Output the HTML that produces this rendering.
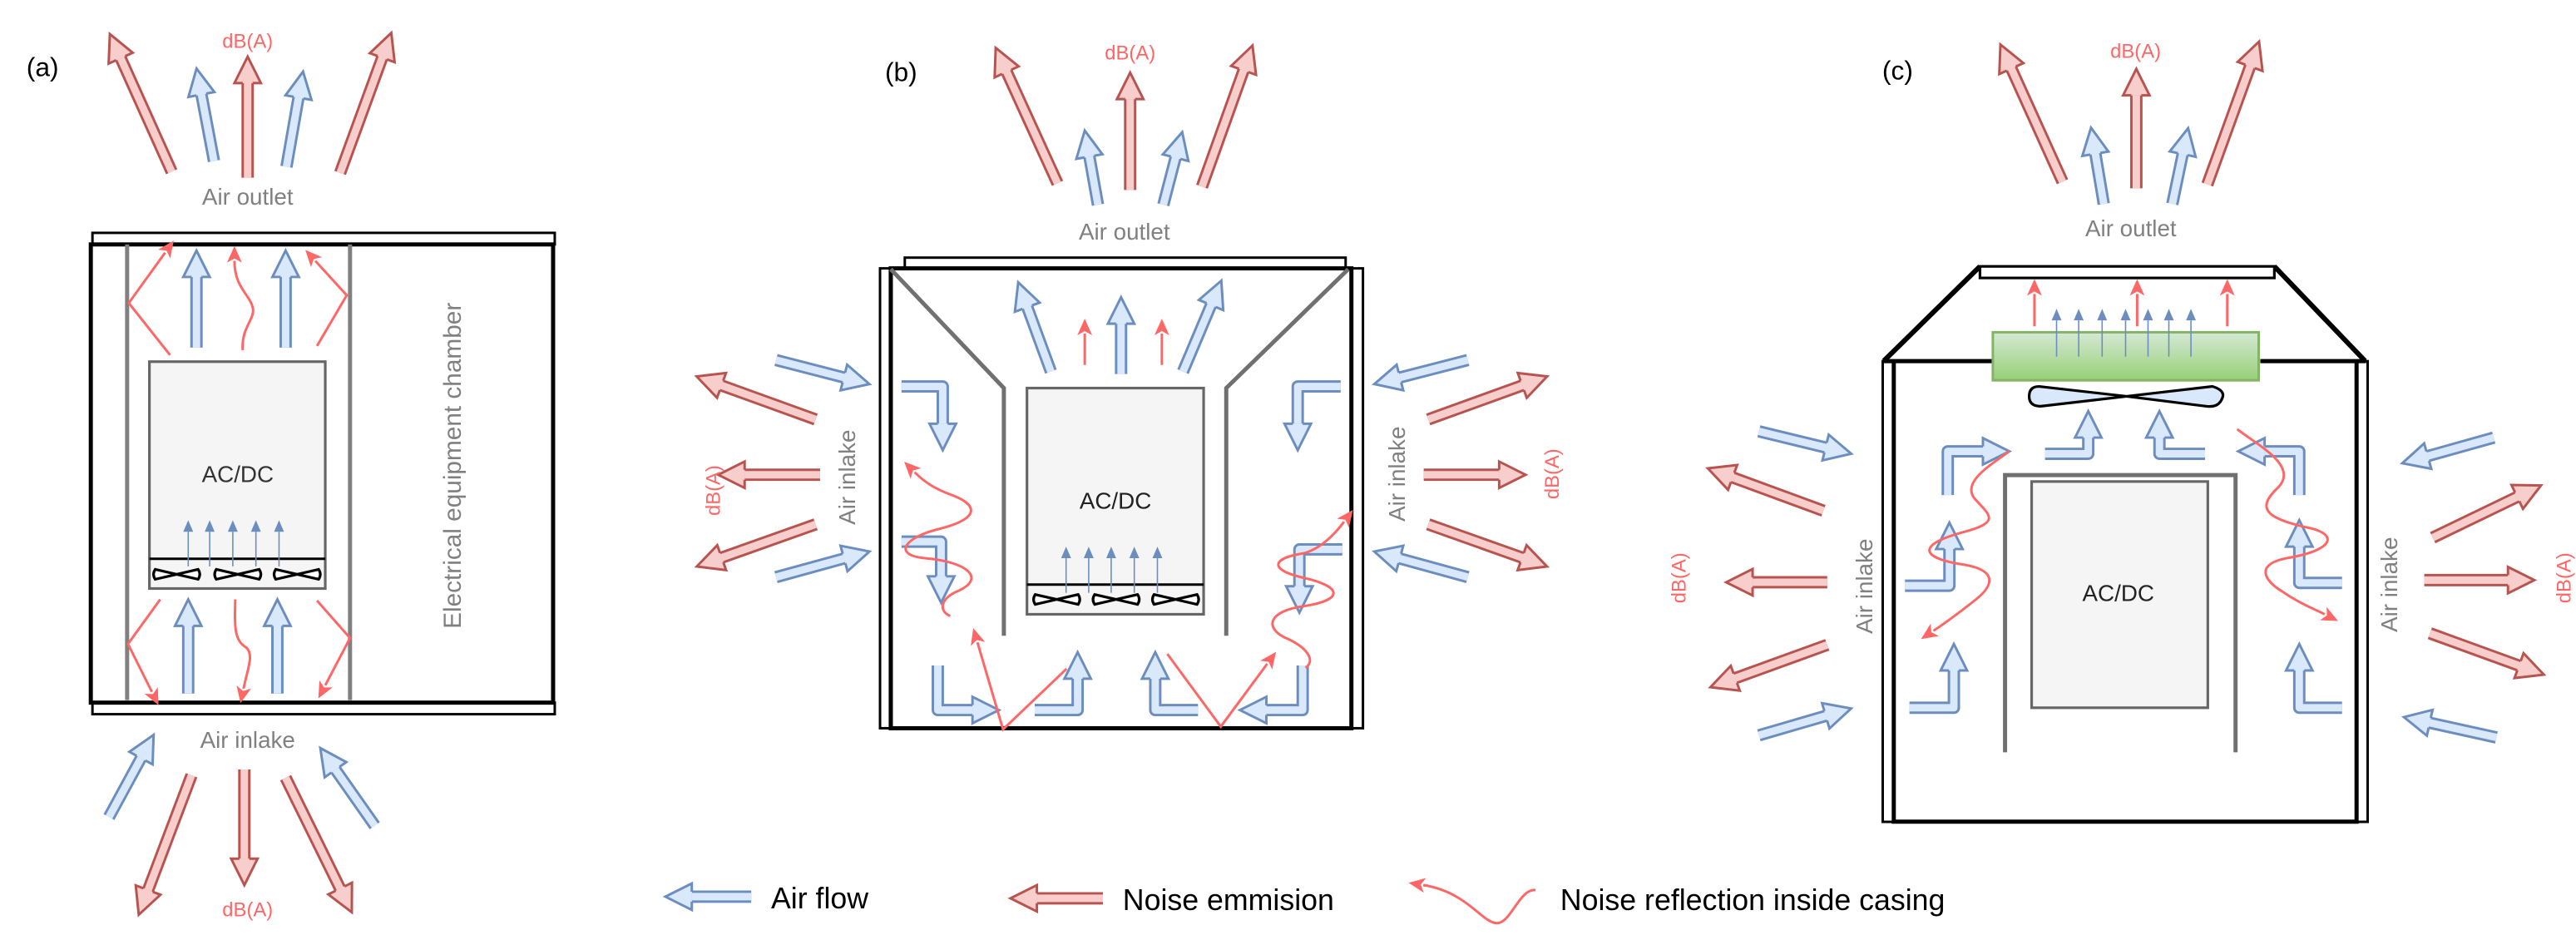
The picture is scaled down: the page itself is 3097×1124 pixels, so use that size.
<!DOCTYPE html>
<html><head><meta charset="utf-8"><style>
html,body{margin:0;padding:0;background:#fff}
svg{display:block}
text{font-family:"Liberation Sans",Arial,sans-serif}
.ro{stroke:#b85450;stroke-width:7.5;fill:none}
.ri{stroke:#f8cecc;stroke-width:4.5;fill:none;marker-end:url(#hR)}
.bo{stroke:#6c8ebf;stroke-width:7.5;fill:none;stroke-linejoin:round}
.bi{stroke:#dae8fc;stroke-width:4.5;fill:none;stroke-linejoin:round;marker-end:url(#hB)}
.nr{stroke:#ff6666;stroke-width:1.5;fill:none;marker-end:url(#hN)}
.sb{stroke:#6c8ebf;stroke-width:0.8;fill:none;marker-end:url(#hS)}
.g{fill:#808080;font-size:14px}
.db{fill:#ff6666;font-size:12px}
.fan{fill:#fff;stroke:#000;stroke-width:1.6}
</style></head><body>
<svg width="3097" height="1124" viewBox="0 0 1560.2 566.2" xmlns="http://www.w3.org/2000/svg">
<defs>
<marker id="hR" markerUnits="userSpaceOnUse" markerWidth="40" markerHeight="40" refX="0" refY="0" orient="auto" overflow="visible">
<path d="M0,-3 L0,-8 L16,0 L0,8 L0,3" fill="#f8cecc" stroke="#b85450" stroke-width="1.5" stroke-linejoin="miter"/></marker>
<marker id="hB" markerUnits="userSpaceOnUse" markerWidth="40" markerHeight="40" refX="0" refY="0" orient="auto" overflow="visible">
<path d="M0,-3 L0,-8 L16,0 L0,8 L0,3" fill="#dae8fc" stroke="#6c8ebf" stroke-width="1.5"/></marker>
<marker id="hN" markerUnits="userSpaceOnUse" markerWidth="20" markerHeight="20" refX="0" refY="0" orient="auto" overflow="visible">
<path d="M-1,-4.5 L9,0 L-1,4.5 L1.5,0 Z" fill="#ff6666"/></marker>
<marker id="hS" markerUnits="userSpaceOnUse" markerWidth="20" markerHeight="20" refX="0" refY="0" orient="auto" overflow="visible">
<path d="M0,-3 L7,0 L0,3 Z" fill="#6c8ebf"/></marker>
<linearGradient id="gr" x1="0" y1="0" x2="0" y2="1"><stop offset="0" stop-color="#d5e8d4"/><stop offset="1" stop-color="#97d077"/></linearGradient>
</defs>

<!-- ================= PANEL A ================= -->
<text x="16" y="46" font-size="16">(a)</text>
<text x="150" y="29" class="db" text-anchor="middle">dB(A)</text>
<text x="150" y="124" class="g" text-anchor="middle">Air outlet</text>
<!-- top outside arrows -->
<line class="ro" x1="104" y1="104" x2="73.1" y2="35.2"/><line class="ri" x1="104" y1="104" x2="73.1" y2="35.2"/>
<line class="ro" x1="150" y1="107.6" x2="150" y2="50.3"/><line class="ri" x1="150" y1="107.6" x2="150" y2="50.3"/>
<line class="ro" x1="206" y1="104.7" x2="231.5" y2="34.9"/><line class="ri" x1="206" y1="104.7" x2="231.5" y2="34.9"/>
<line class="bo" x1="129.6" y1="97.5" x2="122" y2="57.2"/><line class="bi" x1="129.6" y1="97.5" x2="122" y2="57.2"/>
<line class="bo" x1="173.5" y1="101" x2="180.8" y2="59.1"/><line class="bi" x1="173.5" y1="101" x2="180.8" y2="59.1"/>
<!-- box -->
<rect x="56" y="141" width="280" height="7" fill="#fff" stroke="#000" stroke-width="1.5"/>
<rect x="56" y="425.5" width="280" height="7" fill="#fff" stroke="#000" stroke-width="1.5"/>
<rect x="55" y="148" width="280" height="277.5" fill="none" stroke="#000" stroke-width="2.5"/>
<line x1="77" y1="148" x2="77" y2="424" stroke="#808080" stroke-width="2.5"/>
<line x1="212" y1="148" x2="212" y2="424" stroke="#808080" stroke-width="2.5"/>
<rect x="90.5" y="219" width="106.5" height="137.4" fill="#f5f5f5" stroke="#666" stroke-width="1.6"/>
<line x1="90.5" y1="338.4" x2="197" y2="338.4" stroke="#000" stroke-width="1.5"/>
<text x="144" y="292" font-size="14" fill="#333" text-anchor="middle">AC/DC</text>
<g class="fan">
<path d="M94,344.8 L107,347.8 L120,344.8 Q122,347.8 120,350.8 L107,347.8 L94,350.8 Q92,347.8 94,344.8Z"/>
<path d="M131,344.8 L144,347.8 L157,344.8 Q159,347.8 157,350.8 L144,347.8 L131,350.8 Q129,347.8 131,344.8Z"/>
<path d="M167,344.8 L180,347.8 L193,344.8 Q195,347.8 193,350.8 L180,347.8 L167,350.8 Q165,347.8 167,344.8Z"/>
</g>
<line class="sb" x1="114" y1="343" x2="114" y2="322"/><line class="sb" x1="127" y1="343" x2="127" y2="322"/><line class="sb" x1="141" y1="343" x2="141" y2="322"/><line class="sb" x1="155" y1="343" x2="155" y2="322"/><line class="sb" x1="169" y1="343" x2="169" y2="322"/>
<!-- inside blue -->
<line class="bo" x1="119" y1="210.5" x2="119" y2="167.7"/><line class="bi" x1="119" y1="210.5" x2="119" y2="167.7"/>
<line class="bo" x1="173" y1="210.5" x2="173" y2="167.7"/><line class="bi" x1="173" y1="210.5" x2="173" y2="167.7"/>
<line class="bo" x1="114" y1="420" x2="114" y2="379"/><line class="bi" x1="114" y1="420" x2="114" y2="379"/>
<line class="bo" x1="168" y1="420" x2="168" y2="379"/><line class="bi" x1="168" y1="420" x2="168" y2="379"/>
<!-- noise reflections -->
<path class="nr" d="M103,215 L78,183.5 L100,153"/>
<path class="nr" d="M192,209.5 L210,178.8 L191,158"/>
<path class="nr" d="M147,212 C146,198 155,193 153,186 C151,178 142,174 142,158"/>
<path class="nr" d="M97,363 L77.5,390 L92,419"/>
<path class="nr" d="M142.5,363 C142,380 142,388 149,392 C154,396 150,405 147.5,417"/>
<path class="nr" d="M192,363.7 L212,386.4 L197,415"/>
<text transform="translate(279,282) rotate(-90)" font-size="15" fill="#808080" text-anchor="middle">Electrical equipment chamber</text>
<text x="150" y="453" class="g" text-anchor="middle">Air inlake</text>
<!-- bottom outside -->
<line class="bo" x1="66" y1="494.8" x2="85.4" y2="459.1"/><line class="bi" x1="66" y1="494.8" x2="85.4" y2="459.1"/>
<line class="bo" x1="227" y1="500" x2="203.2" y2="466.1"/><line class="bi" x1="227" y1="500" x2="203.2" y2="466.1"/>
<line class="ro" x1="116" y1="469.5" x2="89.7" y2="539"/><line class="ri" x1="116" y1="469.5" x2="89.7" y2="539"/>
<line class="ro" x1="148" y1="466" x2="148" y2="520"/><line class="ri" x1="148" y1="466" x2="148" y2="520"/>
<line class="ro" x1="173" y1="471" x2="206" y2="538.1"/><line class="ri" x1="173" y1="471" x2="206" y2="538.1"/>
<text x="150" y="555" class="db" text-anchor="middle">dB(A)</text>

<!-- ================= PANEL B ================= -->
<text x="536" y="49" font-size="16">(b)</text>
<text x="684.5" y="36" class="db" text-anchor="middle">dB(A)</text>
<text x="681" y="145" class="g" text-anchor="middle">Air outlet</text>
<line class="ro" x1="640.5" y1="111" x2="609.7" y2="43.5"/><line class="ri" x1="640.5" y1="111" x2="609.7" y2="43.5"/>
<line class="ro" x1="684.5" y1="115" x2="684.5" y2="60"/><line class="ri" x1="684.5" y1="115" x2="684.5" y2="60"/>
<line class="ro" x1="728" y1="113" x2="753.2" y2="42.6"/><line class="ri" x1="728" y1="113" x2="753.2" y2="42.6"/>
<line class="bo" x1="665" y1="124" x2="659.8" y2="94.8"/><line class="bi" x1="665" y1="124" x2="659.8" y2="94.8"/>
<line class="bo" x1="704.6" y1="124" x2="712" y2="95.5"/><line class="bi" x1="704.6" y1="124" x2="712" y2="95.5"/>
<!-- box -->
<rect x="548" y="156" width="267" height="6.5" fill="#fff" stroke="#000" stroke-width="1.5"/>
<rect x="533" y="162.5" width="7" height="278.5" fill="#fff" stroke="#000" stroke-width="1.5"/>
<rect x="818.5" y="162.5" width="7" height="278.5" fill="#fff" stroke="#000" stroke-width="1.5"/>
<rect x="539.5" y="162.5" width="279" height="278.5" fill="none" stroke="#000" stroke-width="2.5"/>
<path d="M539.5,163 L608,235 L608,385" fill="none" stroke="#707070" stroke-width="2.5"/>
<path d="M816.6,163 L742.7,235 L742.7,385" fill="none" stroke="#707070" stroke-width="2.5"/>
<rect x="622" y="235" width="107" height="137" fill="#f5f5f5" stroke="#666" stroke-width="1.6"/>
<line x1="622" y1="354" x2="729" y2="354" stroke="#000" stroke-width="1.5"/>
<text x="675.6" y="308" font-size="14" fill="#222" text-anchor="middle">AC/DC</text>
<g class="fan">
<path d="M627,360 L640,363 L653,360 Q655,363 653,366 L640,363 L627,366 Q625,363 627,360Z"/>
<path d="M663,360 L676,363 L689,360 Q691,363 689,366 L676,363 L663,366 Q661,363 663,360Z"/>
<path d="M699,360 L712,363 L725,360 Q727,363 725,366 L712,363 L699,366 Q697,363 699,360Z"/>
</g>
<line class="sb" x1="645.7" y1="359" x2="645.7" y2="338"/><line class="sb" x1="659.4" y1="359" x2="659.4" y2="338"/><line class="sb" x1="673" y1="359" x2="673" y2="338"/><line class="sb" x1="687" y1="359" x2="687" y2="338"/><line class="sb" x1="701" y1="359" x2="701" y2="338"/>
<!-- top inside -->
<line class="bo" x1="636.5" y1="225" x2="622.2" y2="186"/><line class="bi" x1="636.5" y1="225" x2="622.2" y2="186"/>
<line class="bo" x1="679" y1="226.5" x2="679" y2="196"/><line class="bi" x1="679" y1="226.5" x2="679" y2="196"/>
<line class="bo" x1="716.5" y1="225" x2="733.5" y2="184.7"/><line class="bi" x1="716.5" y1="225" x2="733.5" y2="184.7"/>
<line class="nr" x1="657" y1="221" x2="657" y2="202"/>
<line class="nr" x1="703.7" y1="221" x2="703.7" y2="202"/>
<!-- elbows -->
<path class="bo" d="M546,234 L571,234 L571,256.6"/><path class="bi" d="M546,234 L571,234 L571,256.6"/>
<path class="bo" d="M546,328 L570,328 L570,349"/><path class="bi" d="M546,328 L570,328 L570,349"/>
<path class="bo" d="M568,403 L568,430 L589,430"/><path class="bi" d="M568,403 L568,430 L589,430"/>
<path class="bo" d="M626.7,430 L652.7,430 L652.7,411"/><path class="bi" d="M626.7,430 L652.7,430 L652.7,411"/>
<path class="bo" d="M725.6,430 L699.7,430 L699.7,411"/><path class="bi" d="M725.6,430 L699.7,430 L699.7,411"/>
<path class="bo" d="M789,403 L789,430 L767,430"/><path class="bi" d="M789,403 L789,430 L767,430"/>
<path class="bo" d="M812,234 L786,234 L786,256.6"/><path class="bi" d="M812,234 L786,234 L786,256.6"/>
<path class="bo" d="M813,332.7 L787,332.7 L787,355"/><path class="bi" d="M813,332.7 L787,332.7 L787,355"/>
<!-- noise inside b -->
<path class="nr" d="M575.5,373 C568,370 570,362 580,358 C598,350 585,340 560,338 C540,336 548,325 570,320 C596,313 590,305 577,300 C566,296 560,292 554,286"/>
<path class="nr" d="M790.7,404.4 C797,400 792,392 778,386 C766,380 768,370 790,367 C815,363 812,355 790,350 C768,345 770,338 790,335 C800,332 808,324 814,316"/>
<path class="nr" d="M646,405 L607.5,441.7 L592,389"/>
<path class="nr" d="M707,396 L739.4,440 L767.5,402"/>
<!-- outside left -->
<line class="bo" x1="470" y1="218" x2="511.1" y2="228.6"/><line class="bi" x1="470" y1="218" x2="511.1" y2="228.6"/>
<line class="ro" x1="494" y1="254" x2="437" y2="233.4"/><line class="ri" x1="494" y1="254" x2="437" y2="233.4"/>
<line class="ro" x1="496.7" y1="287.5" x2="451" y2="287.5"/><line class="ri" x1="496.7" y1="287.5" x2="451" y2="287.5"/>
<line class="ro" x1="494" y1="317.5" x2="437.1" y2="337.7"/><line class="ri" x1="494" y1="317.5" x2="437.1" y2="337.7"/>
<line class="bo" x1="470" y1="349.5" x2="511.2" y2="338.2"/><line class="bi" x1="470" y1="349.5" x2="511.2" y2="338.2"/>
<text transform="translate(436,297) rotate(-90)" class="db" text-anchor="middle">dB(A)</text>
<text transform="translate(518,289) rotate(-90)" class="g" text-anchor="middle">Air inlake</text>
<!-- outside right -->
<line class="bo" x1="889" y1="218" x2="847.9" y2="228.6"/><line class="bi" x1="889" y1="218" x2="847.9" y2="228.6"/>
<line class="ro" x1="865" y1="254" x2="922" y2="233.4"/><line class="ri" x1="865" y1="254" x2="922" y2="233.4"/>
<line class="ro" x1="862.3" y1="287.5" x2="908" y2="287.5"/><line class="ri" x1="862.3" y1="287.5" x2="908" y2="287.5"/>
<line class="ro" x1="865" y1="317.5" x2="921.9" y2="337.7"/><line class="ri" x1="865" y1="317.5" x2="921.9" y2="337.7"/>
<line class="bo" x1="889" y1="349.5" x2="847.8" y2="338.2"/><line class="bi" x1="889" y1="349.5" x2="847.8" y2="338.2"/>
<text transform="translate(944,287) rotate(-90)" class="db" text-anchor="middle">dB(A)</text>
<text transform="translate(851,287) rotate(-90)" class="g" text-anchor="middle">Air inlake</text>

<!-- ================= PANEL C ================= -->
<text x="1140" y="48" font-size="16">(c)</text>
<text x="1293.5" y="35" class="db" text-anchor="middle">dB(A)</text>
<text x="1290.6" y="143" class="g" text-anchor="middle">Air outlet</text>
<line class="ro" x1="1249.2" y1="110" x2="1218.2" y2="41.5"/><line class="ri" x1="1249.2" y1="110" x2="1218.2" y2="41.5"/>
<line class="ro" x1="1293.9" y1="114" x2="1293.9" y2="57.7"/><line class="ri" x1="1293.9" y1="114" x2="1293.9" y2="57.7"/>
<line class="ro" x1="1336.9" y1="111.7" x2="1362.8" y2="40.2"/><line class="ri" x1="1336.9" y1="111.7" x2="1362.8" y2="40.2"/>
<line class="bo" x1="1274.2" y1="123.5" x2="1269.1" y2="93.1"/><line class="bi" x1="1274.2" y1="123.5" x2="1269.1" y2="93.1"/>
<line class="bo" x1="1315.7" y1="123.5" x2="1322" y2="93.3"/><line class="bi" x1="1315.7" y1="123.5" x2="1322" y2="93.3"/>
<!-- box -->
<path d="M1141,218.5 L1199.2,161.3 M1377.5,161.3 L1432.4,218.5" stroke="#000" stroke-width="3" fill="none"/>
<rect x="1199.2" y="161.3" width="178.3" height="7" fill="#fff" stroke="#000" stroke-width="1.6"/>
<rect x="1140.3" y="218.7" width="6.7" height="279" fill="#fff" stroke="#000" stroke-width="1.5"/>
<rect x="1427.3" y="218.7" width="6.7" height="279" fill="#fff" stroke="#000" stroke-width="1.5"/>
<path d="M1141,218.7 L1210,218.7 M1369,218.7 L1433,218.7 M1147,218.7 L1147,497.6 L1427.3,497.6 L1427.3,218.7" stroke="#000" stroke-width="2.5" fill="none"/>
<rect x="1207" y="201.2" width="161" height="29.1" fill="url(#gr)" stroke="#82b366" stroke-width="1.5"/>
<path d="M1235,234 L1288,240 L1340,234 Q1348,236.5 1346,241 Q1344,247 1336,246 L1288,240 L1236,246 Q1229,246 1229,240 Q1229,234 1235,234Z" fill="#dae8fc" stroke="#000" stroke-width="1.6"/>
<line class="sb" x1="1245.6" y1="216" x2="1245.6" y2="194"/><line class="sb" x1="1259" y1="216" x2="1259" y2="194"/><line class="sb" x1="1273.2" y1="216" x2="1273.2" y2="194"/><line class="sb" x1="1287.4" y1="216" x2="1287.4" y2="194"/><line class="sb" x1="1301" y1="216" x2="1301" y2="194"/><line class="sb" x1="1313.6" y1="216" x2="1313.6" y2="194"/><line class="sb" x1="1327" y1="216" x2="1327" y2="194"/>
<line class="nr" x1="1232.2" y1="197.6" x2="1232.2" y2="178"/>
<line class="nr" x1="1294.4" y1="197.6" x2="1294.4" y2="178"/>
<line class="nr" x1="1349" y1="197.6" x2="1349" y2="178"/>
<path d="M1214.4,455.6 L1214.4,287.7 L1354,287.7 L1354,455.6" fill="none" stroke="#707070" stroke-width="2.5"/>
<rect x="1230.5" y="291.6" width="106.7" height="137" fill="#f5f5f5" stroke="#666" stroke-width="1.6"/>
<text x="1283" y="364" font-size="14" fill="#222" text-anchor="middle">AC/DC</text>
<!-- elbows c -->
<path class="bo" d="M1179.7,299.8 L1179.7,273.3 L1201,273.3"/><path class="bi" d="M1179.7,299.8 L1179.7,273.3 L1201,273.3"/>
<path class="bo" d="M1238.6,274.8 L1264.8,274.8 L1264.8,265"/><path class="bi" d="M1238.6,274.8 L1264.8,274.8 L1264.8,265"/>
<path class="bo" d="M1335.5,274.8 L1307.9,274.8 L1307.9,265"/><path class="bi" d="M1335.5,274.8 L1307.9,274.8 L1307.9,265"/>
<path class="bo" d="M1392.6,299.8 L1392.6,273.3 L1371.6,273.3"/><path class="bi" d="M1392.6,299.8 L1392.6,273.3 L1371.6,273.3"/>
<path class="bo" d="M1153.8,354.7 L1180.7,354.7 L1180.7,332.5"/><path class="bi" d="M1153.8,354.7 L1180.7,354.7 L1180.7,332.5"/>
<path class="bo" d="M1418.5,353 L1392.6,353 L1392.6,331"/><path class="bi" d="M1418.5,353 L1392.6,353 L1392.6,331"/>
<path class="bo" d="M1156.5,428.6 L1183.4,428.6 L1183.4,406"/><path class="bi" d="M1156.5,428.6 L1183.4,428.6 L1183.4,406"/>
<path class="bo" d="M1418.5,428.6 L1392.6,428.6 L1392.6,406"/><path class="bi" d="M1418.5,428.6 L1392.6,428.6 L1392.6,406"/>
<!-- noise c -->
<path class="nr" d="M1217,273.3 C1205,282 1188,292 1196,302 C1205,312 1212,316 1190,322 C1160,330 1163,338 1190,342 C1212,346 1205,356 1198,362 C1188,370 1180,376 1171,382"/>
<path class="nr" d="M1355,259.9 C1368,270 1392,282 1380,295 C1366,308 1372,314 1400,320 C1418,325 1410,334 1385,338 C1365,342 1372,352 1382,358 C1392,365 1400,368 1408,372"/>
<!-- outside c -->
<line class="bo" x1="1065.3" y1="261.2" x2="1105.7" y2="271"/><line class="bi" x1="1065.3" y1="261.2" x2="1105.7" y2="271"/>
<line class="ro" x1="1104.4" y1="309.3" x2="1049.4" y2="289.1"/><line class="ri" x1="1104.4" y1="309.3" x2="1049.4" y2="289.1"/>
<line class="ro" x1="1106.7" y1="352.6" x2="1061.5" y2="352.6"/><line class="ri" x1="1106.7" y1="352.6" x2="1061.5" y2="352.6"/>
<line class="ro" x1="1106.7" y1="390.5" x2="1051" y2="410.7"/><line class="ri" x1="1106.7" y1="390.5" x2="1051" y2="410.7"/>
<line class="bo" x1="1065.3" y1="445.3" x2="1105.8" y2="433.5"/><line class="bi" x1="1065.3" y1="445.3" x2="1105.8" y2="433.5"/>
<text transform="translate(1021,350) rotate(-90)" class="db" text-anchor="middle">dB(A)</text>
<text transform="translate(1134,355) rotate(-90)" class="g" text-anchor="middle">Air inlake</text>
<line class="bo" x1="1510.4" y1="265" x2="1470.4" y2="276.2"/><line class="bi" x1="1510.4" y1="265" x2="1470.4" y2="276.2"/>
<line class="ro" x1="1473.4" y1="325.6" x2="1524.6" y2="300.9"/><line class="ri" x1="1473.4" y1="325.6" x2="1524.6" y2="300.9"/>
<line class="ro" x1="1468.3" y1="351.3" x2="1519" y2="351.3"/><line class="ri" x1="1468.3" y1="351.3" x2="1519" y2="351.3"/>
<line class="ro" x1="1471.7" y1="383.5" x2="1525.7" y2="403.1"/><line class="ri" x1="1471.7" y1="383.5" x2="1525.7" y2="403.1"/>
<line class="bo" x1="1512" y1="446.6" x2="1471.6" y2="437.7"/><line class="bi" x1="1512" y1="446.6" x2="1471.6" y2="437.7"/>
<text transform="translate(1557,350) rotate(-90)" class="db" text-anchor="middle">dB(A)</text>
<text transform="translate(1452,354) rotate(-90)" class="g" text-anchor="middle">Air inlake</text>

<!-- ================= LEGEND ================= -->
<line class="bo" x1="455" y1="543" x2="419" y2="543"/><line class="bi" x1="455" y1="543" x2="419" y2="543"/>
<text x="467" y="550" font-size="18">Air flow</text>
<line class="ro" x1="668" y1="544" x2="628" y2="544"/><line class="ri" x1="668" y1="544" x2="628" y2="544"/>
<text x="680" y="551" font-size="18">Noise emmision</text>
<path class="nr" d="M930,539 C920,538 915,560 906,559 C897,558 888,540 862,536"/>
<text x="945" y="551" font-size="18">Noise reflection inside casing</text>
</svg>
</body></html>
